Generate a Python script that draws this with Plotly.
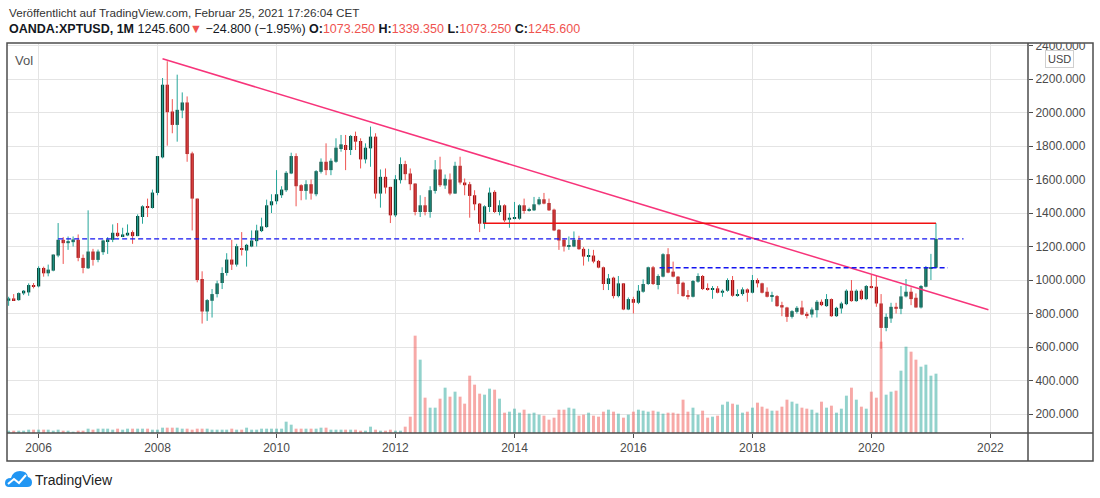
import pandas as pd
import plotly.graph_objects as go

# monthly candles OANDA:XPTUSD, Jul 2005 .. Feb 2021
months = pd.date_range("2005-07-01", periods=188, freq="MS")

open_ = [
    876, 890, 880, 920, 926, 970,
    962, 1072, 1040, 1056, 1146, 1240, 1220, 1226, 1240, 1132, 1070, 1170,
    1120, 1166, 1232, 1240, 1282, 1262, 1266, 1286, 1262, 1376, 1440, 1430,
    1520, 1732, 2166, 2006, 1926, 2012, 2060, 1756, 1486, 1006, 812, 876,
    916, 982, 1042, 1122, 1092, 1190, 1176, 1200, 1232, 1292, 1316, 1446,
    1470, 1506, 1536, 1636, 1740, 1566, 1532, 1572, 1512, 1646, 1706, 1656,
    1706, 1782, 1806, 1776, 1860, 1830, 1720, 1786, 1856, 1516, 1616, 1556,
    1386, 1596, 1692, 1636, 1576, 1406, 1446, 1406, 1532, 1660, 1564, 1600,
    1516, 1682, 1582, 1572, 1506, 1456, 1336, 1436, 1526, 1406, 1446, 1360,
    1368, 1366, 1446, 1412, 1416, 1452, 1482, 1460, 1420, 1300, 1240, 1200,
    1200, 1240, 1186, 1140, 1146, 1114, 1076, 976, 1014, 904, 980, 824,
    886, 864, 930, 976, 1076, 970, 1020, 1154, 1050, 1020, 984, 910,
    900, 990, 1024, 952, 944, 950, 924, 936, 1000, 906, 916, 944,
    924, 1000, 980, 930, 900, 904, 850, 836, 780, 810, 836, 798,
    794, 820, 870, 844, 886, 784, 830, 856, 936, 874, 936, 886,
    964, 960, 860, 714, 770, 840, 828, 902, 930, 894, 836, 960,
    1068, 1073.25,
]
high = [
    900, 916, 926, 940, 980, 982,
    1082, 1080, 1092, 1152, 1340, 1256, 1260, 1260, 1272, 1152, 1416, 1186,
    1182, 1240, 1256, 1332, 1340, 1312, 1332, 1296, 1392, 1446, 1486, 1540,
    1740, 2206, 2306, 2080, 2226, 2120, 2096, 1766, 1486, 1052, 886, 946,
    996, 1076, 1160, 1240, 1216, 1286, 1216, 1296, 1330, 1372, 1480, 1512,
    1656, 1560, 1650, 1760, 1756, 1572, 1596, 1600, 1656, 1726, 1816, 1726,
    1846, 1866, 1866, 1866, 1886, 1846, 1816, 1916, 1876, 1660, 1666, 1556,
    1626, 1732, 1712, 1666, 1576, 1506, 1496, 1560, 1716, 1736, 1630, 1636,
    1706, 1736, 1606, 1586, 1536, 1460, 1446, 1552, 1536, 1476, 1452, 1400,
    1466, 1452, 1486, 1432, 1496, 1496, 1520, 1486, 1426, 1304, 1250, 1260,
    1290, 1264, 1196, 1186, 1180, 1120, 1080, 1036, 1020, 1024, 980, 896,
    900, 970, 1004, 1080, 1084, 1034, 1160, 1190, 1110, 1024, 990, 940,
    1000, 1040, 1030, 980, 964, 964, 944, 1010, 1024, 944, 956, 950,
    1030, 1010, 984, 956, 930, 910, 870, 840, 820, 844, 876, 810,
    836, 880, 884, 916, 890, 840, 870, 944, 1000, 944, 944, 970,
    1030, 1024, 916, 800, 864, 864, 964, 1006, 956, 920, 970, 1084,
    1156, 1339.35,
]
low = [
    846, 876, 876, 910, 906, 950,
    956, 1020, 1022, 1052, 1136, 1096, 1180, 1200, 1112, 1040, 1066, 1086,
    1106, 1150, 1156, 1226, 1256, 1256, 1262, 1216, 1262, 1336, 1376, 1426,
    1506, 1726, 1802, 1876, 1826, 1966, 1706, 1296, 986, 740, 756, 776,
    896, 946, 1026, 1060, 1080, 1146, 1080, 1196, 1200, 1286, 1312, 1400,
    1452, 1490, 1526, 1632, 1440, 1476, 1480, 1480, 1500, 1636, 1626, 1626,
    1700, 1766, 1656, 1746, 1776, 1666, 1696, 1676, 1486, 1432, 1516, 1340,
    1376, 1576, 1596, 1536, 1386, 1376, 1386, 1372, 1516, 1556, 1544, 1506,
    1516, 1570, 1506, 1372, 1416, 1286, 1306, 1406, 1400, 1386, 1346, 1312,
    1362, 1360, 1396, 1408, 1412, 1446, 1452, 1412, 1292, 1180, 1170, 1180,
    1196, 1180, 1086, 1110, 1100, 1070, 940, 940, 890, 896, 820, 820,
    800, 856, 924, 970, 970, 944, 1016, 1040, 1016, 916, 900, 884,
    896, 984, 940, 936, 888, 920, 900, 930, 900, 900, 906, 870,
    920, 956, 920, 896, 870, 840, 784, 750, 770, 800, 790, 770,
    776, 776, 844, 840, 780, 780, 800, 850, 870, 870, 880, 880,
    950, 840, 590, 694, 744, 800, 796, 896, 850, 836, 830, 956,
    1000, 1073.25,
]
close = [
    890, 880, 922, 936, 970, 962,
    1072, 1040, 1062, 1152, 1240, 1220, 1232, 1242, 1132, 1072, 1170, 1120,
    1170, 1236, 1242, 1282, 1262, 1272, 1282, 1262, 1382, 1440, 1432, 1522,
    1740, 2166, 2002, 1926, 2016, 2060, 1752, 1486, 1000, 812, 880, 916,
    980, 1042, 1122, 1092, 1202, 1180, 1210, 1236, 1296, 1320, 1446, 1470,
    1512, 1540, 1640, 1740, 1560, 1532, 1572, 1516, 1650, 1706, 1656, 1712,
    1790, 1810, 1776, 1860, 1826, 1720, 1790, 1856, 1516, 1616, 1552, 1386,
    1602, 1692, 1632, 1572, 1406, 1446, 1406, 1536, 1660, 1566, 1604, 1516,
    1682, 1582, 1566, 1502, 1452, 1336, 1440, 1522, 1406, 1446, 1356, 1372,
    1376, 1446, 1412, 1422, 1452, 1482, 1456, 1416, 1296, 1236, 1200, 1204,
    1240, 1184, 1140, 1144, 1110, 1074, 976, 1010, 904, 980, 824, 886,
    864, 936, 976, 1076, 976, 1024, 1154, 1044, 1020, 976, 904, 904,
    994, 1024, 946, 944, 950, 924, 936, 1000, 906, 914, 944, 924,
    1000, 980, 924, 900, 906, 844, 836, 780, 814, 834, 794, 790,
    824, 870, 850, 886, 784, 834, 860, 936, 874, 936, 886, 964,
    952, 860, 714, 780, 840, 828, 902, 930, 886, 836, 964, 1076,
    1073.25, 1245.6,
]
# volume, arbitrary units (read as bar heights)
volume = [
    7, 7, 7, 7, 10, 10,
    10, 10, 10, 7, 10, 7, 7, 4, 7, 7, 13, 10,
    13, 13, 13, 10, 13, 10, 13, 13, 13, 13, 13, 10,
    10, 16, 16, 16, 16, 13, 13, 10, 13, 13, 13, 10,
    10, 10, 10, 13, 10, 10, 16, 10, 10, 13, 13, 13,
    13, 13, 34, 25, 13, 13, 13, 13, 13, 16, 16, 10,
    10, 10, 10, 10, 10, 7, 7, 19, 10, 7, 7, 10,
    7, 7, 19, 49, 292, 220, 106, 76, 76, 103, 136, 109,
    124, 109, 88, 172, 145, 118, 115, 133, 130, 103, 61, 64,
    73, 61, 70, 58, 61, 55, 52, 40, 46, 70, 70, 76,
    73, 52, 55, 61, 52, 49, 64, 70, 64, 58, 46, 55,
    64, 70, 67, 64, 67, 64, 58, 61, 61, 58, 100, 64,
    76, 55, 67, 46, 49, 52, 85, 94, 88, 85, 61, 64,
    76, 91, 79, 73, 67, 67, 79, 100, 94, 88, 76, 73,
    70, 61, 94, 76, 82, 61, 73, 112, 136, 100, 79, 73,
    124, 106, 274, 115, 124, 127, 187, 259, 244, 220, 199, 205,
    172, 178,
]

price_ticks = list(range(200, 2401, 200))

# drawings on the chart
trend_start, trend_end = ("2008-02-01", 2321), ("2021-12-20", 822)
resist = ("2013-06-25", "2021-02-01", 1339.35)
level_hi = ("2006-05-01", "2021-07-20", 1245.6)
level_lo = ("2016-06-10", "2021-04-15", 1073.25)

UP_BODY, UP_WICK = "#0b4a3b", "#26a69a"
DN_BODY, DN_WICK = "#a11417", "#ef5350"
UP_VOL, DN_VOL = "rgba(38,166,154,0.5)", "rgba(239,83,80,0.5)"
FONT = "Liberation Sans"

W, H = 1100, 498
ML, MR, MT, MB = 7, 72, 43, 65
PW, PH = W - ML - MR, H - MT - MB


def px(x):
    return (x - ML) / PW


def py(y):
    return (H - MB - y) / PH


df = pd.DataFrame({"d": months, "o": open_, "h": high, "l": low, "c": close, "v": volume})
df["up"] = df["c"] >= df["o"]

fig = go.Figure()

# volume on hidden overlay axis
fig.add_trace(go.Bar(
    x=df["d"], y=df["v"], yaxis="y2", width=18 * 86400000,
    marker=dict(color=[UP_VOL if u else DN_VOL for u in df["up"]], line_width=0),
    hoverinfo="skip",
))

for up, wick, body in [(True, UP_WICK, UP_BODY), (False, DN_WICK, DN_BODY)]:
    sub = df[df["up"] == up]
    wx, wy = [], []
    for d, lo, hi in zip(sub["d"], sub["l"], sub["h"]):
        wx += [d, d, None]
        wy += [lo, hi, None]
    fig.add_trace(go.Scatter(x=wx, y=wy, mode="lines", line=dict(color=wick, width=1),
                             hoverinfo="skip"))
    base = sub[["o", "c"]].min(axis=1)
    size = (sub["c"] - sub["o"]).abs().clip(lower=6)
    fig.add_trace(go.Bar(x=sub["d"], y=size, base=base, width=20 * 86400000,
                         marker=dict(color=body, line_width=0), hoverinfo="skip"))

shapes = [
    dict(type="line", xref="x", yref="y", x0=trend_start[0], y0=trend_start[1],
         x1=trend_end[0], y1=trend_end[1], line=dict(color="#f7347a", width=1.5), layer="above"),
    dict(type="line", xref="x", yref="y", x0=resist[0], x1=resist[1], y0=resist[2], y1=resist[2],
         line=dict(color="#f01010", width=1.5), layer="above"),
    dict(type="line", xref="x", yref="y", x0=level_hi[0], x1=level_hi[1], y0=level_hi[2], y1=level_hi[2],
         line=dict(color="#1414f0", width=1.3, dash="5px,3px"), layer="above"),
    dict(type="line", xref="x", yref="y", x0=level_lo[0], x1=level_lo[1], y0=level_lo[2], y1=level_lo[2],
         line=dict(color="#1414f0", width=1.3, dash="5px,3px"), layer="above"),
    # cut the top price label at the frame
    dict(type="rect", xref="paper", yref="paper", x0=px(1029), x1=px(1092), y0=py(43.3), y1=py(28),
         fillcolor="white", line_width=0, layer="above"),
    # frame
    dict(type="rect", xref="paper", yref="paper", x0=0, x1=px(1093), y0=py(461), y1=1,
         line=dict(color="#4d4d4d", width=1.5), layer="above"),
    dict(type="line", xref="paper", yref="paper", x0=1, x1=1, y0=py(461), y1=1,
         line=dict(color="#4d4d4d", width=1.5), layer="above"),
    dict(type="line", xref="paper", yref="paper", x0=0, x1=px(1093), y0=0, y1=0,
         line=dict(color="#4d4d4d", width=1.5), layer="above"),
]

# TradingView logo
cloud = [("M", 9, 487), ("Q", 5, 487, 5, 483), ("Q", 5, 478, 11, 478), ("Q", 13, 471, 20, 471),
         ("Q", 27, 471, 28, 477), ("Q", 32, 478, 32, 482.5), ("Q", 32, 487, 27, 487)]
path = ""
for seg in cloud:
    cmd, pts = seg[0], seg[1:]
    path += cmd + " " + " ".join(f"{px(pts[i])},{py(pts[i + 1])}" for i in range(0, len(pts), 2)) + " "
shapes.append(dict(type="path", xref="paper", yref="paper", path=path + "Z",
                   fillcolor="#2196f3", line_width=0, layer="above"))
zig = [(8, 484), (14, 479), (19, 483), (26, 475)]
zpath = "M " + " L ".join(f"{px(a)},{py(b)}" for a, b in zig)
shapes.append(dict(type="path", xref="paper", yref="paper", path=zpath,
                   line=dict(color="white", width=2), layer="above"))

red = "#ef5350"
header2 = ("<b>OANDA:XPTUSD, 1M</b> 1245.600"
           f"<span style='color:{red}'>▼</span> −24.800 (−1.95%) "
           f"<b>O:</b><span style='color:{red}'>1073.250</span> "
           f"<b>H:</b><span style='color:{red}'>1339.350</span> "
           f"<b>L:</b><span style='color:{red}'>1073.250</span> "
           f"<b>C:</b><span style='color:{red}'>1245.600</span>")

annotations = [
    dict(text="Veröffentlicht auf TradingView.com, Februar 25, 2021 17:26:04 CET",
         x=0, y=py(12), xanchor="left", yanchor="middle", font=dict(size=11.7, color="#333333")),
    dict(text=header2, x=0, y=py(29), xanchor="left", yanchor="middle",
         font=dict(size=12.5, color="#131722")),
    dict(text="Vol", x=px(13), y=py(61), xanchor="left", yanchor="middle",
         font=dict(size=13, color="#555555")),
    dict(text="USD", x=px(1059.5), y=py(58.7), xanchor="center", yanchor="middle",
         font=dict(size=11, color="#444444"), bordercolor="#cfcfcf", borderwidth=1,
         borderpad=2, bgcolor="white"),
    dict(text="TradingView", x=px(33), y=py(480), xanchor="left", yanchor="middle",
         font=dict(size=14, color="#222222")),
]
for a in annotations:
    a.update(xref="paper", yref="paper", showarrow=False)

fig.update_layout(
    width=W, height=H, autosize=False,
    margin=dict(l=ML, r=MR, t=MT, b=MB, pad=0),
    paper_bgcolor="white", plot_bgcolor="white",
    showlegend=False, barmode="overlay", hovermode=False,
    font=dict(family=FONT, color="#4a4a4a"),
    shapes=shapes, annotations=annotations,
    xaxis=dict(type="date", range=["2005-06-21", "2022-08-20"], tick0="2006-01-01", dtick="M24",
               tickformat="%Y", showgrid=True, gridcolor="#e4e4e4", gridwidth=1,
               ticks="outside", ticklen=4, tickcolor="#4d4d4d", tickfont=dict(size=12, color="#4a4a4a"),
               showline=False, zeroline=False, fixedrange=True),
    yaxis=dict(side="right", range=[86.6, 2415], tickvals=price_ticks,
               ticktext=[f"{v:.3f}" for v in price_ticks], showgrid=True, gridcolor="#e4e4e4",
               ticks="outside", ticklen=4, tickcolor="#4d4d4d", tickfont=dict(size=12, color="#4a4a4a"),
               showline=False, zeroline=False, fixedrange=True),
    yaxis2=dict(overlaying="y", range=[0, 1170], visible=False, fixedrange=True),
)

# page has a default body margin; remove it so the figure sits at the window origin
fig.write_html("out.html", config={"displayModeBar": False},
               post_script="document.body.style.margin='0';")
